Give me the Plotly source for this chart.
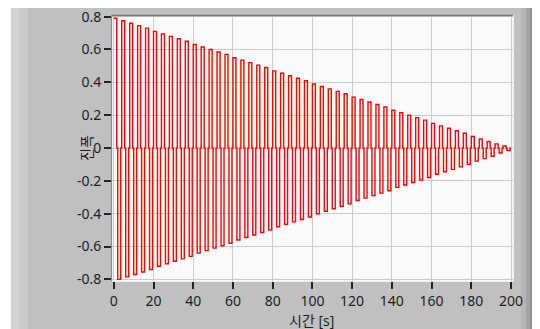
import plotly.graph_objects as go

# ---- data ----
cycle_start = list(range(0, 200, 4))          # s, one pulse pair per 4 s
pos_peak = [0.79, 0.775, 0.76, 0.745, 0.73, 0.71, 0.695, 0.68, 0.665, 0.65,
            0.63, 0.615, 0.60, 0.585, 0.57, 0.55, 0.535, 0.52, 0.505, 0.49,
            0.47, 0.455, 0.44, 0.425, 0.41, 0.39, 0.375, 0.36, 0.345, 0.33,
            0.31, 0.295, 0.28, 0.265, 0.25, 0.23, 0.215, 0.20, 0.185, 0.17,
            0.15, 0.135, 0.12, 0.105, 0.09, 0.07, 0.055, 0.04, 0.025, 0.012]
neg_peak = [-0.80, -0.785, -0.77, -0.755, -0.74, -0.72, -0.705, -0.69, -0.675, -0.66,
            -0.64, -0.625, -0.61, -0.595, -0.58, -0.56, -0.545, -0.53, -0.515, -0.50,
            -0.48, -0.465, -0.45, -0.435, -0.42, -0.40, -0.385, -0.37, -0.355, -0.34,
            -0.32, -0.305, -0.29, -0.275, -0.26, -0.24, -0.225, -0.21, -0.195, -0.18,
            -0.16, -0.145, -0.13, -0.115, -0.10, -0.08, -0.065, -0.05, -0.03, -0.015]
pulse_offsets = [0.0, 1.5, 2.0, 3.5]          # s within a cycle: +peak, 0, -peak, 0

x_tick_vals = [0, 20, 40, 60, 80, 100, 120, 140, 160, 180, 200]
x_tick_text = ["0", "20", "40", "60", "80", "100", "120", "140", "160", "180", "200"]
y_tick_vals = [-0.8, -0.6, -0.4, -0.2, 0, 0.2, 0.4, 0.6, 0.8]
y_tick_text = ["-0.8", "-0.6", "-0.4", "-0.2", "0", "0.2", "0.4", "0.6", "0.8"]
x_title = "시간 [s]"
y_title = "진폭"

# ---- build the stepped waveform from the arrays ----
xs, ys = [], []
for t0, p, n in zip(cycle_start, pos_peak, neg_peak):
    for off, v in zip(pulse_offsets, [p, 0.0, n, 0.0]):
        xs.append(t0 + off)
        ys.append(v)
xs.append(200.0)
ys.append(0.0)

OFF = 8                      # page body margin: the figure starts at (8, 8) on screen
W, H = 540 - OFF, 329 - OFF
L, R, T, B = 104, 27, 7, 48
PW, PH = W - L - R, H - T - B

def X(px):                   # screen x -> paper
    return (px - OFF - L) / PW

def Y(py):                   # screen y -> paper
    return (H - B - (py - OFF)) / PH

FONT = "Noto Sans, Noto Sans CJK KR, sans-serif"
FS = 14

fig = go.Figure(go.Scatter(x=xs, y=ys, mode="lines", line=dict(color="#ff0000", width=1.4, shape="hv"),
                           hoverinfo="skip"))

shapes = []
def rect(x0, x1, y0, y1, color, layer="below"):
    shapes.append(dict(type="rect", xref="paper", yref="paper", x0=X(x0), x1=X(x1), y0=Y(y1), y1=Y(y0),
                       fillcolor=color, line=dict(width=0), layer=layer))

rect(0, 11, 0, 335, "#ffffff")
rect(11, 19, 8, 335, "#d4d4d4")
rect(19, 28, 8, 335, "#cbcbcb")
rect(521, 526, 8, 335, "#b5b5b5")
rect(526, 530, 8, 335, "#a3a3a3")
rect(530, 534, 8, 335, "#929292")
rect(534, 537, 8, 335, "#a8a8a8")
rect(537, 545, 8, 335, "#d8d8d8")

def line(x0, y0, x1, y1, color, w):
    shapes.append(dict(type="line", xref="paper", yref="paper", x0=X(x0), y0=Y(y0), x1=X(x1), y1=Y(y1),
                       line=dict(color=color, width=w), layer="above"))
PL, PR, PT, PB = OFF + L, OFF + W - R, OFF + T, OFF + H - B
line(PL - 0.5, PT + 0.5, PR, PT + 0.5, "#7a7a7a", 1.5)
line(PL - 0.5, PT, PL - 0.5, PB, "#8a8a8a", 1.2)
line(PR + 0.5, PT, PR + 0.5, PB, "#ececec", 1.2)
line(PL, PB + 0.5, PR, PB + 0.5, "#ececec", 1.2)

axis_common = dict(showgrid=True, gridcolor="#cdcdcd", gridwidth=1, zeroline=False, showline=False,
                   ticks="outside", ticklen=7, tickwidth=1.5, tickcolor="#222222",
                   ticklabeloverflow="allow", automargin=False,
                   tickfont=dict(family=FONT, size=FS, color="#1e1e1e"))

fig.update_layout(
    width=W, height=H,
    margin=dict(l=L, r=R, t=T, b=B, pad=0, autoexpand=False),
    paper_bgcolor="#c0c0c0", plot_bgcolor="#fafafa",
    showlegend=False,
    font=dict(family=FONT, size=FS, color="#1e1e1e"),
    shapes=shapes,
    xaxis=dict(range=[-0.9, 201], tickvals=x_tick_vals, ticktext=x_tick_text, **axis_common),
    yaxis=dict(range=[-0.81, 0.81], tickvals=y_tick_vals, ticktext=y_tick_text, **axis_common),
    annotations=[
        dict(text=x_title, xref="paper", yref="paper", x=X(311), y=Y(320), xanchor="center", yanchor="middle",
             showarrow=False, font=dict(family=FONT, size=FS, color="#1e1e1e")),
        dict(text=y_title, xref="paper", yref="paper", x=X(86), y=Y(148), xanchor="center", yanchor="middle",
             textangle=-90, showarrow=False, font=dict(family=FONT, size=FS, color="#1e1e1e")),
    ],
)

fig.write_html("out.html")
